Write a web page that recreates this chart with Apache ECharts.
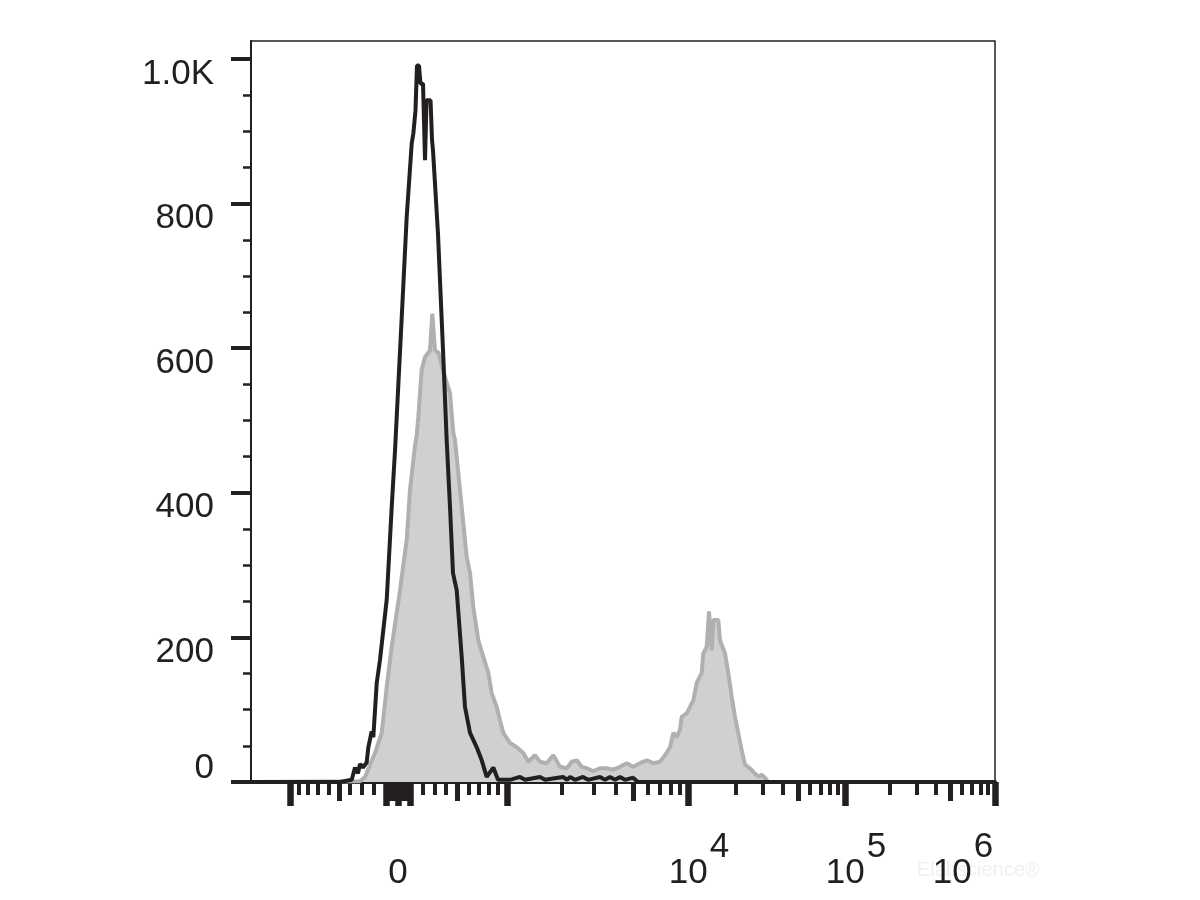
<!DOCTYPE html>
<html><head><meta charset="utf-8">
<script src="https://cdn.jsdelivr.net/npm/echarts@6/dist/echarts.min.js"></script>
<style>html,body{margin:0;padding:0;background:#fff}#c{width:1200px;height:900px}</style>
</head><body><div id="c"></div>
<script>
// ---- Histogram data (x = display channel 0..1000 along the axis, y = count) ----
const BLACK_X = [0, 119.6, 135.4, 139.8, 143.8, 146.5, 150.5, 155.5, 157.7, 162.2, 164.4, 169.0, 173.4, 177.8, 182.4, 189.1, 193.6, 202.6, 209.3, 216.0, 218.2, 221.1, 223.1, 225.8, 227.8, 231.2, 233.9, 235.9, 241.3, 243.3, 244.6, 251.3, 258.1, 263.0, 267.5, 271.5, 276.5, 283.2, 287.6, 294.4, 303.4, 310.1, 316.8, 325.7, 332.0, 338.7, 348.1, 361.6, 368.3, 388.4, 395.2, 419.4, 424.7, 428.8, 435.5, 446.2, 453.0, 469.1, 475.8, 482.5, 489.3, 496.0, 502.7, 513.4, 520.2, 1000];
const BLACK_Y = [0, 0, 3, 20, 12, 25, 20, 27, 48, 70, 62, 137, 169, 210, 252, 380, 459, 643, 782, 883, 897, 929, 991, 991, 966, 966, 860, 943, 943, 888, 874, 759, 597, 473, 380, 289, 265, 173, 104, 68, 48, 30, 7, 20, 3, 3, 3, 7, 3, 7, 3, 7, 3, 7, 3, 7, 3, 7, 3, 7, 3, 7, 3, 6, 0, 0];

const GRAY_X = [0, 146.5, 153.2, 160.0, 166.7, 175.7, 182.4, 189.1, 195.8, 200.3, 204.3, 209.3, 213.7, 220.4, 222.7, 224.9, 229.4, 233.9, 240.6, 243.7, 247.3, 251.8, 260.8, 267.5, 271.9, 274.2, 280.9, 285.4, 289.9, 294.4, 298.8, 305.5, 312.2, 319.0, 323.5, 330.2, 334.7, 339.1, 348.1, 357.1, 366.0, 372.7, 381.7, 388.4, 397.4, 406.3, 415.3, 424.3, 431.1, 437.8, 444.5, 451.2, 460.1, 469.1, 478.1, 487.0, 496.0, 505.0, 513.8, 522.9, 531.9, 540.7, 549.7, 556.5, 563.2, 567.6, 572.2, 576.6, 578.9, 585.6, 594.5, 599.1, 605.8, 607.9, 612.5, 615.6, 619.2, 621.4, 628.1, 630.4, 637.1, 641.5, 646.1, 650.5, 654.9, 659.5, 664.0, 670.7, 675.1, 681.9, 686.4, 690.9, 694.9, 1000];
const GRAY_Y = [0, 1, 7, 24, 40, 68, 131, 187, 234, 265, 297, 335, 404, 465, 480, 505, 570, 588, 597, 648, 597, 594, 560, 538, 483, 473, 404, 358, 311, 289, 242, 196, 173, 151, 123, 104, 85, 68, 54, 48, 40, 28, 37, 28, 26, 37, 21, 19, 28, 30, 21, 19, 15, 19, 19, 17, 21, 26, 21, 26, 30, 26, 28, 37, 48, 68, 62, 72, 90, 95, 113, 137, 151, 178, 187, 236, 182, 224, 224, 196, 178, 151, 118, 90, 68, 44, 24, 19, 14, 7, 10, 6, 0, 0];

// ---- Axis ticks / labels ----
const Y_TICKS = [0, 200, 400, 600, 800, 1000];
const Y_MINOR_TICKS = [50, 100, 150, 250, 300, 350, 450, 500, 550, 650, 700, 750, 850, 900, 950];
const X_MAJOR_TICKS = [-1000, -100, 0, 100, 1000, 1e4, 1e5, 1e6];
const X_MEDIUM_TICKS = [-500, -75, -50, -25, 25, 50, 75, 500, 5e3, 5e4, 5e5];
const X_MINOR_TICKS = [-900, -800, -700, -600, -400, -300, -200, 200, 300, 400, 600, 700, 800, 900,
  2e3, 3e3, 4e3, 6e3, 7e3, 8e3, 9e3, 2e4, 3e4, 4e4, 6e4, 7e4, 8e4, 9e4,
  2e5, 3e5, 4e5, 6e5, 7e5, 8e5, 9e5];
const X_LABEL_VALUES = [0, 1e4, 1e5, 1e6];
const X_LABEL_BASE = ['0', '10', '10', '10'];
const X_LABEL_EXP = ['', '4', '5', '6'];

// axis calibration (fluorescence value -> display channel)
const CAL_VALUES = [-1000, 0, 1000, 1e4, 1e5, 1e6];
const CAL_CHANNELS = [52.4, 197.6, 344.1, 587.4, 798.4, 1000];
function warp(v) {
  const a = Math.abs(v), s = Math.sign(v);
  return a <= 1000 ? Math.asinh(v / 1000) : s * (Math.asinh(1) + Math.log10(a / 1000));
}
function toChannel(v) {
  for (let i = 0; i < CAL_VALUES.length - 1; i++) {
    const a = CAL_VALUES[i], b = CAL_VALUES[i + 1];
    if (v >= a && v <= b) {
      const t = (warp(v) - warp(a)) / (warp(b) - warp(a));
      return CAL_CHANNELS[i] + t * (CAL_CHANNELS[i + 1] - CAL_CHANNELS[i]);
    }
  }
  return NaN;
}
const majorCh = X_MAJOR_TICKS.map(toChannel);
const mediumCh = X_MEDIUM_TICKS.map(toChannel);
const minorCh = X_MINOR_TICKS.map(toChannel);
const labelCh = X_LABEL_VALUES.map(toChannel);

const zip = (xs, ys) => xs.map((x, i) => [x, ys[i]]);
const INK = '#231f20';
const FONT = 'Liberation Sans, Arial, Helvetica, sans-serif';
const FS = 35;

const chart = echarts.init(document.getElementById('c'), null, {renderer: 'canvas'});
const baseX = {type: 'value', min: 0, max: 1000, position: 'bottom', splitLine: {show: false}};
chart.setOption({
  animation: false,
  backgroundColor: '#fff',
  grid: {left: 251, top: 41, width: 744, height: 741, show: true, borderColor: INK, borderWidth: 1.5, backgroundColor: 'transparent'},
  graphic: [{type: 'text', left: 917, top: 860, style: {text: 'Elabscience®', fontSize: 20, fontFamily: FONT, fill: '#f0f0f0'}}],
  xAxis: [
    Object.assign({}, baseX, {
      axisLine: {show: true, lineStyle: {color: INK, width: 4}},
      axisTick: {show: true, customValues: majorCh, length: 24, lineStyle: {color: INK, width: 6.5}},
      axisLabel: {
        show: true, customValues: labelCh, margin: 48, color: INK, fontFamily: FONT, fontSize: FS,
        formatter: function (val) {
          let idx = 0, best = 1e9;
          labelCh.forEach((c, i) => { const d = Math.abs(c - val); if (d < best) { best = d; idx = i; } });
          if (!X_LABEL_EXP[idx]) return '{z|' + X_LABEL_BASE[idx] + '}';
          if (idx === X_LABEL_VALUES.length - 1) return '{c|' + X_LABEL_BASE[idx] + '}{e|' + X_LABEL_EXP[idx] + '}';
          return '{b|' + X_LABEL_BASE[idx] + '}{s|' + X_LABEL_EXP[idx] + '}';
        },
        rich: {
          z: {fontSize: FS, fontFamily: FONT, color: INK, padding: [26, 0, 0, 0]},
          b: {fontSize: FS, fontFamily: FONT, color: INK, padding: [26, 0, 0, 22]},
          s: {fontSize: FS, fontFamily: FONT, color: INK, padding: [0, 0, 26, 2]},
          c: {fontSize: FS, fontFamily: FONT, color: INK, padding: [26, 0, 0, 0]},
          e: {fontSize: FS, fontFamily: FONT, color: INK, padding: [0, 64, 26, 2]}
        }
      }
    }),
    Object.assign({}, baseX, {
      axisLine: {show: false},
      axisTick: {show: true, customValues: mediumCh, length: 19, lineStyle: {color: INK, width: 5}},
      axisLabel: {show: false}
    }),
    Object.assign({}, baseX, {
      axisLine: {show: false},
      axisTick: {show: true, customValues: minorCh, length: 13, lineStyle: {color: INK, width: 4}},
      axisLabel: {show: false}
    })
  ],
  yAxis: [
    {
      type: 'value', min: 0, max: 1025, position: 'left', splitLine: {show: false},
      axisLine: {show: true, lineStyle: {color: INK, width: 2}},
      axisTick: {show: true, customValues: Y_TICKS, length: 20, lineStyle: {color: INK, width: 4}},
      axisLabel: {
        show: true, customValues: Y_TICKS, margin: 37, color: INK, fontFamily: FONT, fontSize: FS,
        formatter: v => v === 0 ? '{z|0}' : '{n|' + (v === 1000 ? '1.0K' : String(v)) + '}',
        rich: {
          n: {fontSize: FS, fontFamily: FONT, color: INK, padding: [30, 0, 0, 0]},
          z: {fontSize: FS, fontFamily: FONT, color: INK, padding: [0, 0, 27, 0]}
        }
      }
    },
    {
      type: 'value', min: 0, max: 1025, position: 'left', splitLine: {show: false},
      axisLine: {show: false},
      axisTick: {show: true, customValues: Y_MINOR_TICKS, length: 8, lineStyle: {color: INK, width: 2.5}},
      axisLabel: {show: false}
    }
  ],
  series: [
    {
      name: 'Isotype', type: 'line', xAxisIndex: 0, yAxisIndex: 0, data: zip(GRAY_X, GRAY_Y),
      symbol: 'none', smooth: false, z: 2,
      lineStyle: {color: '#b0b0b0', width: 4},
      areaStyle: {color: '#d0d0d0', opacity: 1}
    },
    {
      name: 'Stained', type: 'line', xAxisIndex: 0, yAxisIndex: 0, data: zip(BLACK_X, BLACK_Y),
      symbol: 'none', smooth: false, z: 3,
      lineStyle: {color: INK, width: 4}
    }
  ]
});
</script>
</body></html>
